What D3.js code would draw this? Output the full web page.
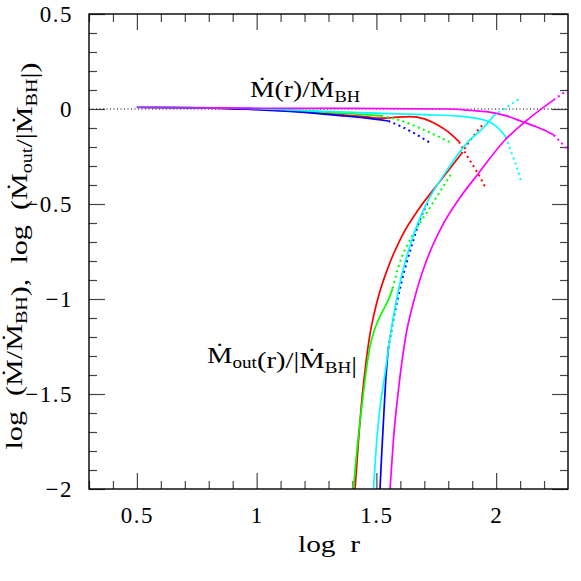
<!DOCTYPE html>
<html>
  <head>
    <style>
    body {
      margin: 0;
      background: #fff;
    }
    text {
      font-family: "Liberation Serif", "DejaVu Serif", serif;
      fill: #000;
    }
    </style>
  </head>
  <body>
    <script src="https://d3js.org/d3.v7.min.js"></script>
    <script>

// tick values
var xMajor = [0.5, 1, 1.5, 2];
var xMinor = [0.3, 0.4, 0.6, 0.7, 0.8, 0.9, 1.1, 1.2, 1.3, 1.4, 1.6, 1.7, 1.8, 1.9, 2.1, 2.2];
var yMajor = [0.5, 0, -0.5, -1, -1.5, -2];
var yMinor = [0.4, 0.3, 0.2, 0.1, -0.1, -0.2, -0.3, -0.4, -0.6, -0.7, -0.8, -0.9,
              -1.1, -1.2, -1.3, -1.4, -1.6, -1.7, -1.8, -1.9];

// Mdot(r)/Mdot_BH  (solid part, then dotted continuation)
var inRedSolid = [[0.5,0.01],[0.8,0.005],[1.0,-0.002],[1.2,-0.015],[1.35,-0.03],[1.45,-0.04],[1.52,-0.048],[1.56,-0.046],[1.64,-0.04],[1.7,-0.052],[1.75,-0.08],[1.8,-0.12],[1.845,-0.172]];
var inRedDot = [[1.845,-0.172],[1.88,-0.25],[1.92,-0.33],[1.954,-0.41]];
var inGreenSolid = [[0.5,0.01],[0.8,0.006],[1.0,0.0],[1.2,-0.012],[1.4,-0.025],[1.52,-0.036]];
var inGreenDot = [[1.52,-0.036],[1.6,-0.06],[1.68,-0.1],[1.75,-0.14],[1.81,-0.177]];
var inBlueSolid = [[0.5,0.01],[0.8,0.005],[1.0,-0.003],[1.2,-0.018],[1.35,-0.035],[1.45,-0.047],[1.55,-0.063]];
var inBlueDot = [[1.55,-0.063],[1.6,-0.09],[1.65,-0.122],[1.72,-0.175]];
var inCyanSolid = [[0.5,0.01],[0.8,0.007],[1.0,0.002],[1.2,-0.008],[1.4,-0.018],[1.56,-0.024],[1.7,-0.03],[1.84,-0.037],[1.95,-0.058],[2.0,-0.09],[2.04,-0.146]];
var inCyanDot = [[2.04,-0.146],[2.07,-0.25],[2.09,-0.32],[2.105,-0.385]];
var inMagentaSolid = [[0.5,0.008],[0.8,0.006],[1.0,0.004],[1.4,0.003],[1.8,0.0],[1.9,-0.008],[1.96,-0.014],[2.04,-0.035],[2.11,-0.067],[2.16,-0.09],[2.2,-0.111],[2.24,-0.137]];
var inMagentaDot = [[2.24,-0.137],[2.27,-0.175],[2.3,-0.215]];

// Mdot_out(r)/|Mdot_BH|
var outRedSolid = [[1.411,-2],[1.425,-1.75],[1.44,-1.52],[1.455,-1.35],[1.47,-1.21],[1.49,-1.08],[1.51,-0.98],[1.55,-0.83],[1.606,-0.67],[1.675,-0.53],[1.76,-0.39],[1.855,-0.235]];
var outRedDot = [[1.855,-0.235],[1.9,-0.15],[1.95,-0.075]];
var outGreenSolid = [[1.404,-2],[1.42,-1.78],[1.439,-1.567],[1.455,-1.4],[1.473,-1.251],[1.49,-1.17],[1.508,-1.111],[1.536,-1.04],[1.55,-1.005],[1.568,-0.944]];
var outGreenDot = [[1.568,-0.944],[1.592,-0.83],[1.648,-0.672],[1.717,-0.532],[1.814,-0.339]];
var outBlueSolid = [[1.515,-2],[1.522,-1.82],[1.529,-1.654],[1.539,-1.426],[1.55,-1.259]];
var outBlueDot = [[1.55,-1.259],[1.568,-1.13],[1.603,-0.92],[1.652,-0.7],[1.687,-0.567],[1.717,-0.488]];
var outCyanSolid = [[1.488,-2],[1.497,-1.82],[1.508,-1.654],[1.536,-1.391],[1.564,-1.146],[1.598,-0.917],[1.648,-0.689],[1.703,-0.514],[1.786,-0.339],[1.884,-0.17],[1.946,-0.1],[1.99,-0.035]];
var outCyanDot = [[1.99,-0.035],[2.05,0.015],[2.1,0.056]];
var outMagentaSolid = [[1.557,-2],[1.571,-1.742],[1.592,-1.479],[1.62,-1.216],[1.661,-0.988],[1.71,-0.795],[1.773,-0.619],[1.842,-0.479],[1.926,-0.339],[2.037,-0.163],[2.113,-0.075],[2.239,0.047]];
var outMagentaDot = [[2.239,0.047],[2.27,0.075],[2.3,0.1]];

var curves = [
  {c: "#ff0000", solid: inRedSolid, dot: inRedDot},
  {c: "#00ff00", solid: inGreenSolid, dot: inGreenDot},
  {c: "#0000ff", solid: inBlueSolid, dot: inBlueDot},
  {c: "#00ffff", solid: inCyanSolid, dot: inCyanDot},
  {c: "#ff00ff", solid: inMagentaSolid, dot: inMagentaDot},
  {c: "#ff0000", solid: outRedSolid, dot: outRedDot},
  {c: "#00ff00", solid: outGreenSolid, dot: outGreenDot},
  {c: "#0000ff", solid: outBlueSolid, dot: outBlueDot},
  {c: "#00ffff", solid: outCyanSolid, dot: outCyanDot},
  {c: "#ff00ff", solid: outMagentaSolid, dot: outMagentaDot}
];

var width = 581, height = 581;
var mLeft = 89, mRight = 568, mTop = 14, mBottom = 489;

var x = d3.scaleLinear().domain([0.3, 2.3]).range([mLeft, mRight]);
var y = d3.scaleLinear().domain([-2, 0.5]).range([mBottom, mTop]);

var svg = d3.select("body").append("svg")
    .attr("width", width)
    .attr("height", height);

svg.append("clipPath").attr("id", "clip")
  .append("rect")
    .attr("x", mLeft).attr("y", mTop)
    .attr("width", mRight - mLeft).attr("height", mBottom - mTop);

var fmt = function(d){ return d === 0 ? "0" : d3.format("~g")(d); };

// axes: minor + major on all four sides, ticks pointing inward
function ticks(axis, vals, size, labels, pad){
  return axis.tickValues(vals).tickSize(-size).tickPadding(pad || 0)
    .tickFormat(labels ? fmt : "");
}

var axes = [
  ["translate(0," + mBottom + ")", ticks(d3.axisBottom(x), xMinor, 8)],
  ["translate(0," + mBottom + ")", ticks(d3.axisBottom(x), xMajor, 16, true, 18)],
  ["translate(0," + mTop + ")", ticks(d3.axisTop(x), xMinor, 8)],
  ["translate(0," + mTop + ")", ticks(d3.axisTop(x), xMajor, 16)],
  ["translate(" + mLeft + ",0)", ticks(d3.axisLeft(y), yMinor, 8)],
  ["translate(" + mLeft + ",0)", ticks(d3.axisLeft(y), yMajor, 16, true, 16)],
  ["translate(" + mRight + ",0)", ticks(d3.axisRight(y), yMinor, 8)],
  ["translate(" + mRight + ",0)", ticks(d3.axisRight(y), yMajor, 16)]
];

axes.forEach(function(a){
  var g = svg.append("g").attr("transform", a[0]).call(a[1]);
  g.select(".domain").remove();
  g.selectAll("line").attr("stroke", "#444").attr("stroke-width", 1.2);
  g.selectAll("text")
    .attr("font-size", 23)
    .attr("letter-spacing", 1.5)
    .attr("fill", "#000");
});

// zero reference line
svg.append("line")
    .attr("x1", x(0.3)).attr("x2", x(2.3))
    .attr("y1", y(0)).attr("y2", y(0))
    .attr("stroke", "#000")
    .attr("stroke-width", 1)
    .attr("stroke-dasharray", "1,2.5");

var line = d3.line().x(function(d){ return x(d[0]); }).y(function(d){ return y(d[1]); })
    .curve(d3.curveMonotoneX);

var plot = svg.append("g").attr("clip-path", "url(#clip)");

curves.forEach(function(k){
  plot.append("path")
      .attr("d", line(k.solid))
      .attr("fill", "none")
      .attr("stroke", k.c)
      .attr("stroke-width", 1.7);
  plot.append("path")
      .attr("d", line(k.dot))
      .attr("fill", "none")
      .attr("stroke", k.c)
      .attr("stroke-width", 2)
      .attr("stroke-dasharray", "2,3.5");
});

// frame
svg.append("rect")
    .attr("x", mLeft).attr("y", mTop)
    .attr("width", mRight - mLeft).attr("height", mBottom - mTop)
    .attr("fill", "none")
    .attr("stroke", "#000")
    .attr("stroke-width", 1.4);

// labels with subscripts
function label(parts, sub){
  return function(t){
    parts.forEach(function(p){
      if (p[1]) {
        t.append("tspan").attr("dy", 5).attr("font-size", sub).text(p[0]);
        t.append("tspan").attr("dy", -5).text("");
      } else {
        t.append("tspan").text(p[0]);
      }
    });
  };
}

svg.append("text")
    .attr("x", 298).attr("y", 552)
    .attr("font-size", 24)
    .attr("textLength", 62)
    .attr("lengthAdjust", "spacingAndGlyphs")
    .text("log\u00a0\u00a0r");

svg.append("text")
    .attr("transform", "translate(22,256) rotate(-90)")
    .attr("text-anchor", "middle")
    .attr("font-size", 24)
    .attr("textLength", 387)
    .attr("lengthAdjust", "spacingAndGlyphs")
    .call(label([["log\u00a0\u00a0(Ṁ/Ṁ"], ["BH", 1], ["),\u00a0\u00a0log\u00a0\u00a0(Ṁ"], ["out", 1], ["/|Ṁ"], ["BH", 1], ["|)"]], 16));

svg.append("text")
    .attr("x", 250).attr("y", 97)
    .attr("font-size", 24)
    .attr("textLength", 110)
    .attr("lengthAdjust", "spacingAndGlyphs")
    .call(label([["Ṁ(r)/Ṁ"], ["BH", 1]], 16));

svg.append("text")
    .attr("x", 207).attr("y", 363)
    .attr("font-size", 24)
    .attr("textLength", 150)
    .attr("lengthAdjust", "spacingAndGlyphs")
    .call(label([["Ṁ"], ["out", 1], ["(r)/|Ṁ"], ["BH", 1], ["|"]], 16));

    </script>
  </body>
</html>
